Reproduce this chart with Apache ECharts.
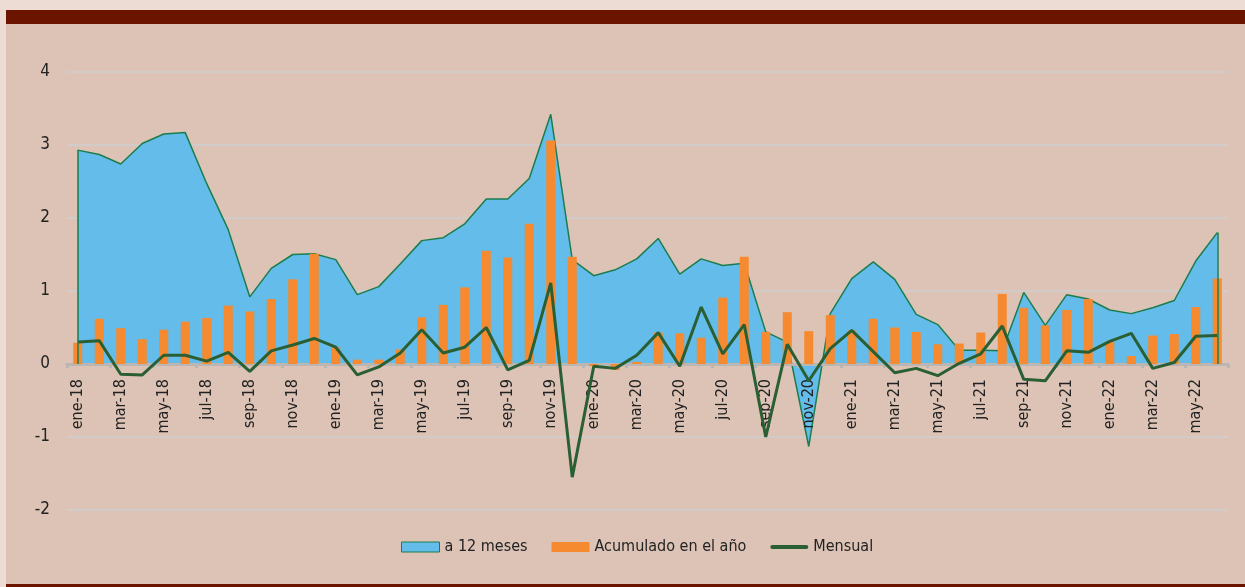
<!DOCTYPE html>
<html>
<head>
<meta charset="utf-8">
<script src="https://cdn.jsdelivr.net/npm/echarts@6/dist/echarts.min.js"></script>
<style>
    html,body{margin:0;padding:0;width:1245px;height:587px;overflow:hidden;background:#ecdcd3;}
    #panel{position:absolute;left:6px;top:24px;right:0;height:560px;background:#dcc3b5;}
    #bandTop{position:absolute;left:6px;top:10px;right:0;height:14px;background:#6b1500;}
    #bandBottom{position:absolute;left:6px;top:584px;right:0;height:3px;background:#6b1500;}
    #chart{position:absolute;left:0;top:0;width:1245px;height:587px;}
</style>
</head>
<body>
<div id="panel"></div>
<div id="bandTop"></div>
<div id="bandBottom"></div>
<div id="chart"></div>
<script>
var categories = [
    "ene-18","feb-18","mar-18","abr-18","may-18","jun-18","jul-18","ago-18","sep-18","oct-18","nov-18","dic-18",
    "ene-19","feb-19","mar-19","abr-19","may-19","jun-19","jul-19","ago-19","sep-19","oct-19","nov-19","dic-19",
    "ene-20","feb-20","mar-20","abr-20","may-20","jun-20","jul-20","ago-20","sep-20","oct-20","nov-20","dic-20",
    "ene-21","feb-21","mar-21","abr-21","may-21","jun-21","jul-21","ago-21","sep-21","oct-21","nov-21","dic-21",
    "ene-22","feb-22","mar-22","abr-22","may-22","jun-22"
];
// a 12 meses
var doceMeses = [
    2.93, 2.87, 2.74, 3.02, 3.15, 3.17, 2.47, 1.84, 0.92, 1.31, 1.50, 1.51,
    1.43, 0.95, 1.06, 1.37, 1.69, 1.73, 1.92, 2.26, 2.26, 2.54, 3.42, 1.43,
    1.21, 1.29, 1.44, 1.72, 1.23, 1.44, 1.35, 1.38, 0.44, 0.30, -1.13, 0.69,
    1.17, 1.40, 1.16, 0.68, 0.54, 0.19, 0.19, 0.18, 0.98, 0.53, 0.95, 0.89,
    0.74, 0.69, 0.77, 0.87, 1.41, 1.80
];
// acumulado en el año
var acumulado = [
    0.29, 0.62, 0.49, 0.34, 0.47, 0.58, 0.63, 0.80, 0.72, 0.89, 1.16, 1.51,
    0.23, 0.06, 0.06, 0.20, 0.64, 0.81, 1.05, 1.55, 1.46, 1.92, 3.06, 1.47,
    -0.03, -0.08, 0.03, 0.43, 0.42, 0.36, 0.91, 1.47, 0.44, 0.71, 0.45, 0.67,
    0.46, 0.62, 0.50, 0.44, 0.27, 0.28, 0.43, 0.96, 0.77, 0.53, 0.74, 0.89,
    0.31, 0.11, 0.39, 0.41, 0.78, 1.17
];
// mensual
var mensual = [
    0.30, 0.32, -0.14, -0.15, 0.12, 0.12, 0.04, 0.16, -0.10, 0.18, 0.26, 0.35,
    0.23, -0.15, -0.04, 0.15, 0.47, 0.15, 0.23, 0.50, -0.08, 0.05, 1.11, -1.55,
    -0.03, -0.06, 0.12, 0.43, -0.03, 0.78, 0.14, 0.54, -1.00, 0.27, -0.23, 0.21,
    0.46, 0.17, -0.12, -0.06, -0.16, 0.01, 0.14, 0.52, -0.21, -0.23, 0.18, 0.16,
    0.31, 0.42, -0.06, 0.02, 0.38, 0.39
];
var yTicks = [-2, -1, 0, 1, 2, 3, 4];

var font = "'Liberation Sans Narrow','DejaVu Sans Condensed',sans-serif";
var last = categories.length - 1;
var gridTop = 72, gridBottom = 77, plotH = 587 - gridTop - gridBottom;
// el eje de categorias va sobre el cero (labels incluidos)
var yMin = yTicks[0], yMax = yTicks[yTicks.length - 1];
var zeroOffset = -plotH * (0 - yMin) / (yMax - yMin);

var chart = echarts.init(document.getElementById("chart"));
var option = {
    backgroundColor: "transparent",
    animation: false,
    textStyle: {fontFamily: font},
    grid: {left: 67, right: 17, top: gridTop, bottom: gridBottom, containLabel: false},
    legend: {
        top: 534,
        left: 396,
        itemWidth: 38,
        itemHeight: 10,
        itemGap: 24,
        textStyle: {fontFamily: font, fontSize: 16, color: "#222"},
        data: [
            {name: "a 12 meses", icon: "rect", itemStyle: {color: "#63bce9", borderColor: "#1b7d4e", borderWidth: 1}},
            {name: "Acumulado en el año", icon: "rect", itemStyle: {color: "#f58a31"}},
            {name: "Mensual", icon: "path://M2,0 L36,0 A2,2 0 0 1 36,4 L2,4 A2,2 0 0 1 2,0 Z", itemStyle: {color: "#2a5f34"}}
        ]
    },
    xAxis: {
        type: "category",
        data: categories,
        boundaryGap: true,
        offset: zeroOffset,
        z: 2,
        axisLine: {onZero: false, lineStyle: {color: "#b9b6b4", width: 3}},
        axisTick: {show: true, interval: 1, length: 4, lineStyle: {color: "#b9b6b4", width: 3}},
        axisLabel: {interval: 1, rotate: 90, margin: 15, fontSize: 16, color: "#222", fontFamily: font},
        splitLine: {show: false}
    },
    yAxis: {
        type: "value",
        min: yMin,
        max: yMax,
        interval: 1,
        axisLine: {show: false},
        axisTick: {show: false},
        axisLabel: {fontSize: 17, color: "#222", margin: 17, fontFamily: font},
        splitLine: {lineStyle: {color: "#d1ccc9", width: 2}}
    },
    series: [
        {
            name: "a 12 meses",
            type: "line",
            data: doceMeses,
            symbol: "none",
            lineStyle: {color: "#1b7d4e", width: 1.5},
            itemStyle: {color: "#63bce9"},
            areaStyle: {color: "#63bce9", opacity: 1},
            z: 1,
            markLine: {
                silent: true,
                symbol: "none",
                label: {show: false},
                lineStyle: {color: "#1b7d4e", width: 1.5, type: "solid"},
                data: [
                    [{coord: [categories[0], 0]}, {coord: [categories[0], doceMeses[0]]}],
                    [{coord: [categories[last], 0]}, {coord: [categories[last], doceMeses[last]]}]
                ]
            }
        },
        {
            name: "Acumulado en el año",
            type: "bar",
            data: acumulado,
            barWidth: 9,
            itemStyle: {color: "#f58a31"},
            z: 2
        },
        {
            name: "Mensual",
            type: "line",
            data: mensual,
            symbol: "none",
            lineStyle: {color: "#2a5f34", width: 3},
            itemStyle: {color: "#2a5f34"},
            z: 3
        }
    ]
};
chart.setOption(option);
</script>
</body>
</html>
